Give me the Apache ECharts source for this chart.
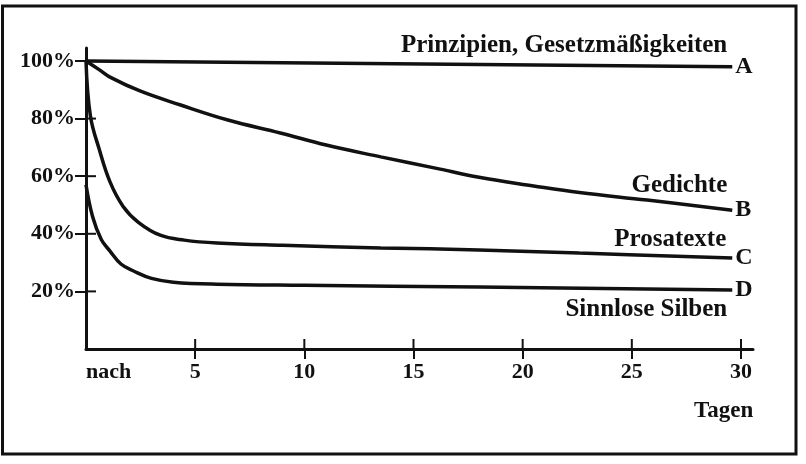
<!DOCTYPE html>
<html>
<head>
<meta charset="utf-8">
<script src="https://cdn.jsdelivr.net/npm/echarts@6/dist/echarts.min.js"></script>
<style>
html,body{margin:0;padding:0;background:#fff;}
#chart{width:806px;height:464px;}
</style>
</head>
<body>
<div id="chart"></div>
<script>
// ---- data ----
const daysA = [0, 29.6];
const valuesA = [100, 98];

const daysB = [0, 0.6, 1.1, 2.5, 4.3, 6.5, 8.9, 11, 13.5, 16, 18, 20.5, 22.6, 25.7, 29.6];
const valuesB = [100, 97, 94.4, 89.5, 84.8, 79.5, 75, 70.8, 66.7, 62.8, 59.6, 56.6, 54.3, 51.7, 48.2];

const daysC = [0, 0.2, 0.6, 1.1, 1.7, 2.4, 3.4, 4.5, 6, 9, 13.5, 18, 22.6, 29.6];
const valuesC = [100, 81, 69.5, 58, 49.5, 44, 39.5, 37.8, 36.8, 36, 35.1, 34.4, 33.3, 31.6];

const daysD = [0, 0.3, 0.7, 1.1, 1.6, 2.2, 3.0, 4.0, 6, 10, 18, 29.6];
const valuesD = [57, 46, 38, 34, 29.5, 27, 24.5, 23.2, 22.5, 22.1, 21.5, 20.5];

const curveLetters = ['A', 'B', 'C', 'D'];
const curveNames = ['Prinzipien, Gesetzmäßigkeiten', 'Gedichte', 'Prosatexte', 'Sinnlose Silben'];
const yTickValues = [20, 40, 60, 80, 100];
const xLabelValues = [0, 5, 10, 15, 20, 25, 30];
const xTickValues = [5, 10, 15, 20, 25, 30];
const xFirstLabel = 'nach';
const xUnitLabel = 'Tagen';

// ---- chart ----
const FONT = 'Liberation Serif';
const INK = '#111';
const chart = echarts.init(document.getElementById('chart'));

function pairs(xs, ys) { return xs.map((x, i) => [x, ys[i]]); }

const nameOffsets = [[-5, -21], [-5, -25], [-6, -18], [-5, 20]];
const sets = [[daysA, valuesA], [daysB, valuesB], [daysC, valuesC], [daysD, valuesD]];

const series = sets.map((s, i) => {
  const data = pairs(s[0], s[1]);
  const last = data[data.length - 1];
  return {
    type: 'line',
    data: data,
    smooth: 0.4,
    showSymbol: false,
    symbol: 'none',
    silent: true,
    lineStyle: { color: INK, width: 3.5 },
    endLabel: {
      show: true,
      formatter: curveLetters[i],
      distance: 3,
      color: INK,
      fontFamily: FONT,
      fontWeight: 'bold',
      fontSize: 24,
      verticalAlign: 'middle'
    },
    markPoint: {
      symbol: 'circle',
      symbolSize: 0,
      silent: true,
      data: [{
        coord: last,
        label: {
          show: true,
          formatter: curveNames[i],
          position: 'inside',
          align: 'right',
          verticalAlign: 'middle',
          offset: nameOffsets[i],
          color: INK,
          fontFamily: FONT,
          fontWeight: 'bold',
          fontSize: 25
        }
      }]
    }
  };
});

// inner half of the crossing tick marks (outer half is drawn by the axes)
const TICK_IN = 10;
series.push({
  type: 'custom', silent: true, z: 3,
  data: yTickValues.map(v => [0, v]),
  renderItem: (params, api) => {
    const p = api.coord([api.value(0), api.value(1)]);
    return { type: 'line', shape: { x1: p[0], y1: p[1], x2: p[0] + TICK_IN, y2: p[1] },
             style: { stroke: INK, lineWidth: 2 } };
  }
});
series.push({
  type: 'custom', silent: true, z: 3,
  data: xTickValues.map(v => [v, 0]),
  renderItem: (params, api) => {
    const p = api.coord([api.value(0), api.value(1)]);
    return { type: 'line', shape: { x1: p[0], y1: p[1], x2: p[0], y2: p[1] - TICK_IN },
             style: { stroke: INK, lineWidth: 2 } };
  }
});

const option = {
  animation: false,
  backgroundColor: '#fff',
  grid: { left: 86, right: 53, top: 48, bottom: 115, containLabel: false },
  xAxis: {
    type: 'value', min: 0, max: 30.55, position: 'bottom',
    splitLine: { show: false },
    axisLine: { show: true, onZero: false, lineStyle: { color: INK, width: 3 } },
    axisTick: { show: true, inside: false, length: 10, customValues: xTickValues, lineStyle: { color: INK, width: 2 } },
    axisLabel: {
      show: true, customValues: xLabelValues, margin: 12,
      color: INK, fontFamily: FONT, fontWeight: 'bold', fontSize: 22,
      alignMinLabel: 'left',
      formatter: v => (v === 0 ? xFirstLabel : String(v))
    }
  },
  yAxis: {
    type: 'value', min: 0, max: 104.5, position: 'left',
    splitLine: { show: false },
    axisLine: { show: true, onZero: false, lineStyle: { color: INK, width: 3 } },
    axisTick: { show: true, inside: false, length: 11, customValues: yTickValues, lineStyle: { color: INK, width: 2 } },
    axisLabel: {
      show: true, customValues: yTickValues, margin: 11,
      color: INK, fontFamily: FONT, fontWeight: 'bold', fontSize: 22,
      formatter: v => v + '%'
    }
  },
  series: series,
  graphic: [
    {
      type: 'rect', silent: true,
      shape: { x: 2.5, y: 6, width: 793.5, height: 448 },
      style: { fill: 'none', stroke: INK, lineWidth: 3 }
    },
    {
      type: 'text', silent: true, left: 694, top: 400,
      style: { text: xUnitLabel, fill: INK, font: 'bold 23px "Liberation Serif"' }
    }
  ]
};
chart.setOption(option);
</script>
</body>
</html>
